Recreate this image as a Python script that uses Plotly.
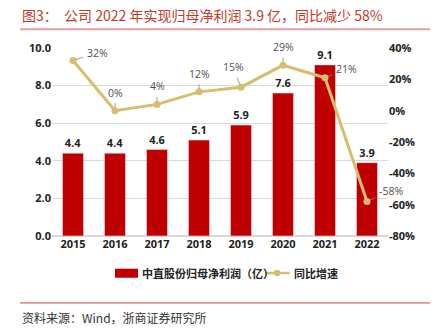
import plotly.graph_objects as go

years = ["2015", "2016", "2017", "2018", "2019", "2020", "2021", "2022"]
profit = [4.4, 4.4, 4.6, 5.1, 5.9, 7.6, 9.1, 3.9]
growth = [32, 0, 4, 12, 15, 29, 21, -58]
growth_labels = ["32%", "0%", "4%", "12%", "15%", "29%", "21%", "-58%"]
label_offsets = [(24, -8), (0, -18), (0, -18), (0, -18), (-8, -20), (0, -18), (21, -9), (24, -11)]
legend_names = ["中直股份归母净利润（亿）", "同比增速"]
left_ticks = [0, 2, 4, 6, 8, 10]
right_ticks = [-80, -60, -40, -20, 0, 20, 40]

xpos = list(range(len(years)))

bar_color = "#C00000"
line_color = "#D6BE6E"
tick_font = dict(family="Open Sans, Noto Sans CJK SC", size=11, color="#222222")

fig = go.Figure()
fig.add_trace(go.Bar(
    x=xpos, y=profit, name=legend_names[0],
    marker_color=bar_color, width=0.5,
    text=[f"<b>{v:.1f}</b>" for v in profit], textposition="outside",
    textfont=dict(family="Open Sans, Noto Sans CJK SC", size=11, color="#222222"),
    cliponaxis=False, showlegend=False,
))
fig.add_trace(go.Scatter(
    x=xpos, y=growth, name=legend_names[1], yaxis="y2",
    mode="lines+markers", line=dict(color=line_color, width=3),
    marker=dict(color=line_color, size=7), showlegend=False,
))

for xp, g, lab, (ax, ay) in zip(xpos, growth, growth_labels, label_offsets):
    fig.add_annotation(
        x=xp, y=g, xref="x", yref="y2", text=lab, showarrow=True, arrowhead=0,
        arrowwidth=0.8, arrowcolor="#888888", ax=ax, ay=ay,
        font=dict(family="Open Sans, Noto Sans CJK SC", size=10.5, color="#505050"),
        standoff=3, borderpad=3,
    )

fig.update_layout(
    width=432, height=331,
    margin=dict(l=52, r=44, t=48, b=95),
    paper_bgcolor="white", plot_bgcolor="white",
    showlegend=False,
    xaxis=dict(range=[-0.5, len(years) - 0.5], tickmode="array", tickvals=xpos,
               ticktext=[f"<b>{y}</b>" for y in years], tickfont=tick_font,
               showgrid=False, showline=False, zeroline=False, ticks=""),
    yaxis=dict(range=[0, 10], tickmode="array", tickvals=left_ticks,
               ticktext=[f"<b>{v:.1f}</b>" for v in left_ticks], tickfont=tick_font,
               showgrid=True, gridcolor="#d9d9d9", gridwidth=1, zeroline=True,
               zerolinecolor="#d9d9d9"),
    yaxis2=dict(range=[-80, 40], tickmode="array", tickvals=right_ticks,
                ticktext=[f"<b>{v}%</b>" for v in right_ticks], tickfont=tick_font,
                overlaying="y", side="right", showgrid=False, zeroline=False),
)

# manual legend
fig.add_shape(type="rect", xref="paper", yref="paper", x0=0.1875, x1=0.256,
              y0=-0.222, y1=-0.174, fillcolor=bar_color, line=dict(width=0))
fig.add_annotation(xref="paper", yref="paper", x=0.262, y=-0.197, xanchor="left",
                   yanchor="middle", showarrow=False, text="<b>" + legend_names[0] + "</b>",
                   font=dict(family="Noto Sans CJK SC", size=11, color="#222222"))
fig.add_shape(type="line", xref="paper", yref="paper", x0=0.634, x1=0.708,
              y0=-0.197, y1=-0.197, line=dict(color=line_color, width=2.5))
fig.add_shape(type="circle", xref="paper", yref="paper", x0=0.6605, x1=0.6795,
              y0=-0.214, y1=-0.180, fillcolor=line_color, line=dict(width=0))
fig.add_annotation(xref="paper", yref="paper", x=0.714, y=-0.197, xanchor="left",
                   yanchor="middle", showarrow=False, text="<b>" + legend_names[1] + "</b>",
                   font=dict(family="Noto Sans CJK SC", size=11, color="#222222"))

fig.add_annotation(
    xref="paper", yref="paper", x=-0.095, y=1.175, xanchor="left", yanchor="middle",
    text="图3：  公司 2022 年实现归母净利润 3.9 亿，同比减少 58%", showarrow=False,
    font=dict(family="Noto Sans CJK SC", size=14, color="#C0392B"),
)
fig.add_shape(type="line", xref="paper", yref="paper", x0=-0.095, x1=1.125, y0=1.1, y1=1.1,
              line=dict(color="#E8A0A0", width=2))
fig.add_shape(type="line", xref="paper", yref="paper", x0=-0.095, x1=1.125, y0=-0.356, y1=-0.356,
              line=dict(color="#D04040", width=1))
fig.add_annotation(
    xref="paper", yref="paper", x=-0.095, y=-0.436, xanchor="left", yanchor="middle",
    text="资料来源：Wind，浙商证券研究所", showarrow=False,
    font=dict(family="Noto Sans CJK SC", size=12, color="#333333"),
)

fig.write_html("out.html")
